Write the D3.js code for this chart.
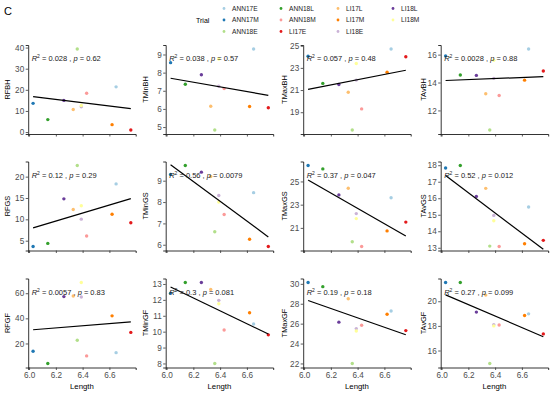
<!DOCTYPE html>
<html>
<head>
<meta charset="utf-8">
<script src="https://cdn.jsdelivr.net/npm/d3@7"></script>
<style>
  body { margin: 0; background: #fff; }
  svg { font-family: "Liberation Sans", Arial, sans-serif; }
</style>
</head>
<body>
<div id="chart"></div>
<script>
// trials (legend order) and their length
const trials = ['ANN17E', 'ANN17M', 'ANN18E', 'ANN18L', 'ANN18M', 'LI17E', 'LI17L', 'LI17M', 'LI18E', 'LI18L', 'LI18M'];
const lengths = [6.65, 6.03, 6.36, 6.14, 6.43, 6.76, 6.33, 6.62, 6.39, 6.26, 6.39];

// response variables, values in trial order
const RFBH   = [21.4, 13.6, 39.3, 5.9, 18.4, 1.0, 10.7, 3.5, 12.0, 15.0, 12.6];
const TMinBH = [9.3, 8.55, 4.84, 7.36, 7.12, 6.06, 6.15, 6.13, 7.25, 7.88, 8.75];
const TMaxBH = [24.7, 24.05, 17.4, 21.6, 19.3, 24.0, 20.8, 22.6, 21.9, 21.5, 23.4];
const TAvBH  = [16.4, 15.9, 10.6, 14.54, 13.07, 14.83, 13.2, 14.17, 14.3, 14.51, 15.6];
const RFGS   = [18.3, 3.65, 22.6, 4.36, 6.1, 9.2, 12.3, 11.2, 10.05, 14.8, 13.2];
const TMinGS = [8.44, 9.29, 6.61, 9.71, 7.42, 5.92, 9.2, 6.26, 8.31, 9.4, 8.0];
const TMaxGS = [23.6, 26.37, 19.8, 26.08, 19.4, 21.5, 24.42, 20.74, 22.23, 23.84, 21.8];
const TAvGS  = [15.47, 17.83, 13.1, 17.98, 13.08, 13.45, 16.6, 13.24, 14.96, 16.11, 14.64];
const RFGF   = [12.7, 13.8, 22.6, 4.1, 10.1, 28.8, 57.8, 42, 57, 57.3, 68.5];
const TMinGF = [10.48, 12.42, 8.0, 13.09, 10.1, 9.8, 12.66, 11.19, 11.97, 13.09, 11.76];
const TMaxGF = [27.27, 30.13, 22.0, 29.72, 25.84, 25.3, 28.5, 26.94, 25.5, 26.15, 25.26];
const TAvGF  = [18.98, 21.52, 14.95, 21.52, 18.07, 17.35, 20.5, 18.84, 18.1, 19.12, 18.0];

const panelNames = ['RFBH', 'TMinBH', 'TMaxBH', 'TAvBH', 'RFGS', 'TMinGS', 'TMaxGS', 'TAvGS', 'RFGF', 'TMinGF', 'TMaxGF', 'TAvGF'];
const panelValues = [RFBH, TMinBH, TMaxBH, TAvBH, RFGS, TMinGS, TMaxGS, TAvGS, RFGF, TMinGF, TMaxGF, TAvGF];
const panelR2 = ['0.028', '0.038', '0.057', '0.0028', '0.12', '0.56', '0.37', '0.52', '0.0057', '0.3', '0.19', '0.27'];
const panelP  = ['0.62', '0.57', '0.48', '0.88', '0.29', '0.0079', '0.047', '0.012', '0.83', '0.081', '0.18', '0.099'];
const panelYTicks = [
  [0, 10, 20, 30, 40], [5, 6, 7, 8, 9], [19, 21, 23, 25], [12, 14, 16],
  [5, 10, 15, 20], [6, 7, 8, 9], [21, 23, 25], [13, 14, 15, 16, 17, 18],
  [20, 40, 60], [8, 9, 10, 11, 12, 13], [22, 24, 26, 28, 30], [16, 18, 20]
];
const xTicks = [6.0, 6.2, 6.4, 6.6];

const width = 550, height = 394;
const colX = [0, 137.5, 275, 412.5];
const rowTop = [45, 161.5, 278.5];
const panelLeftPad = 28.2;
const panelW = 107.5, panelH = 89;
const titleOffset = [21, 20, 19, 17];

const color = d3.scaleOrdinal().domain(trials).range(d3.schemePaired);
const textGrey = '#4d4d4d';

const svg = d3.select('#chart').append('svg')
  .attr('width', width)
  .attr('height', height);

// panel tag
svg.append('text')
  .attr('x', 4)
  .attr('y', 14.5)
  .style('font-size', '11px')
  .text('C');

// legend
const legend = svg.append('g');
legend.append('text')
  .attr('x', 196)
  .attr('y', 22.5)
  .style('font-size', '7px')
  .text('Trial');

const legendColX = [224, 281, 338, 393];
const legendRowY = [8.5, 20, 31.5];
trials.forEach((t, i) => {
  const c = Math.floor(i / 3), r = i % 3;
  legend.append('circle')
    .attr('cx', legendColX[c])
    .attr('cy', legendRowY[r])
    .attr('r', 1.4)
    .attr('fill', color(t));
  legend.append('text')
    .attr('x', legendColX[c] + 8)
    .attr('y', legendRowY[r] + 2.4)
    .style('font-size', '6.6px')
    .attr('fill', '#222')
    .text(t);
});

// x domain with 5% expansion, like ggplot
const xExt = d3.extent(lengths);
const xPad = (xExt[1] - xExt[0]) * 0.05;

panelNames.forEach((name, k) => {
  const col = k % 4, row = Math.floor(k / 4);
  const left = colX[col] + panelLeftPad;
  const top = rowTop[row];
  const vals = panelValues[k];

  const yExt = d3.extent(vals);
  const yPad = (yExt[1] - yExt[0]) * 0.05;

  const x = d3.scaleLinear()
    .domain([xExt[0] - xPad, xExt[1] + xPad])
    .range([left, left + panelW]);
  const y = d3.scaleLinear()
    .domain([yExt[0] - yPad, yExt[1] + yPad])
    .range([top + panelH, top]);

  const g = svg.append('g');

  // axes
  const yAxis = g.append('g')
    .attr('transform', `translate(${left},0)`)
    .call(d3.axisLeft(y).tickValues(panelYTicks[k]).tickSize(2.5).tickPadding(1.5)
      .tickFormat(d3.format('d')));
  const xAxis = g.append('g')
    .attr('transform', `translate(0,${top + panelH})`)
    .call(d3.axisBottom(x).tickValues(xTicks).tickSize(2.5).tickPadding(2)
      .tickFormat(row === 2 ? d3.format('.1f') : ''));

  [yAxis, xAxis].forEach(a => {
    a.select('.domain').attr('stroke', '#000').attr('stroke-width', 0.8);
    a.selectAll('.tick line').attr('stroke', '#333').attr('stroke-width', 0.8);
    a.selectAll('.tick text').attr('fill', textGrey).style('font-size', '8.2px');
  });

  // y title
  g.append('text')
    .attr('transform', `translate(${left - titleOffset[col]},${top + panelH / 2}) rotate(-90)`)
    .attr('text-anchor', 'middle')
    .attr('dy', '0.35em')
    .style('font-size', '7.4px')
    .text(name);

  if (row === 2) {
    g.append('text')
      .attr('x', left + panelW / 2)
      .attr('y', top + panelH + 21)
      .attr('text-anchor', 'middle')
      .style('font-size', '7.8px')
      .text('Length');
  }

  // points
  const pts = lengths.map((l, i) => ({ x: l, y: vals[i], trial: trials[i] }));
  g.selectAll('circle.pt')
    .data(pts)
    .enter()
    .append('circle')
    .attr('class', 'pt')
    .attr('cx', d => x(d.x))
    .attr('cy', d => y(d.y))
    .attr('r', 1.7)
    .attr('fill', d => color(d.trial));

  // least squares fit
  const mx = d3.mean(lengths), my = d3.mean(vals);
  let sxy = 0, sxx = 0;
  lengths.forEach((l, i) => {
    sxy += (l - mx) * (vals[i] - my);
    sxx += (l - mx) * (l - mx);
  });
  const slope = sxy / sxx;
  const icpt = my - slope * mx;
  g.append('line')
    .attr('x1', x(xExt[0]))
    .attr('y1', y(icpt + slope * xExt[0]))
    .attr('x2', x(xExt[1]))
    .attr('y2', y(icpt + slope * xExt[1]))
    .attr('stroke', '#000')
    .attr('stroke-width', 1.2);

  // R2 / p label
  const label = g.append('text')
    .attr('x', left + 3.5)
    .attr('y', top + 16)
    .style('font-size', '7.5px')
    .attr('fill', '#222');
  label.append('tspan').style('font-style', 'italic').text('R');
  label.append('tspan').attr('dy', -3).style('font-size', '5px').text('2');
  label.append('tspan').attr('dy', 3).text(` = ${panelR2[k]} , `);
  label.append('tspan').style('font-style', 'italic').text('p');
  label.append('tspan').text(` = ${panelP[k]}`);
});
</script>
</body>
</html>
